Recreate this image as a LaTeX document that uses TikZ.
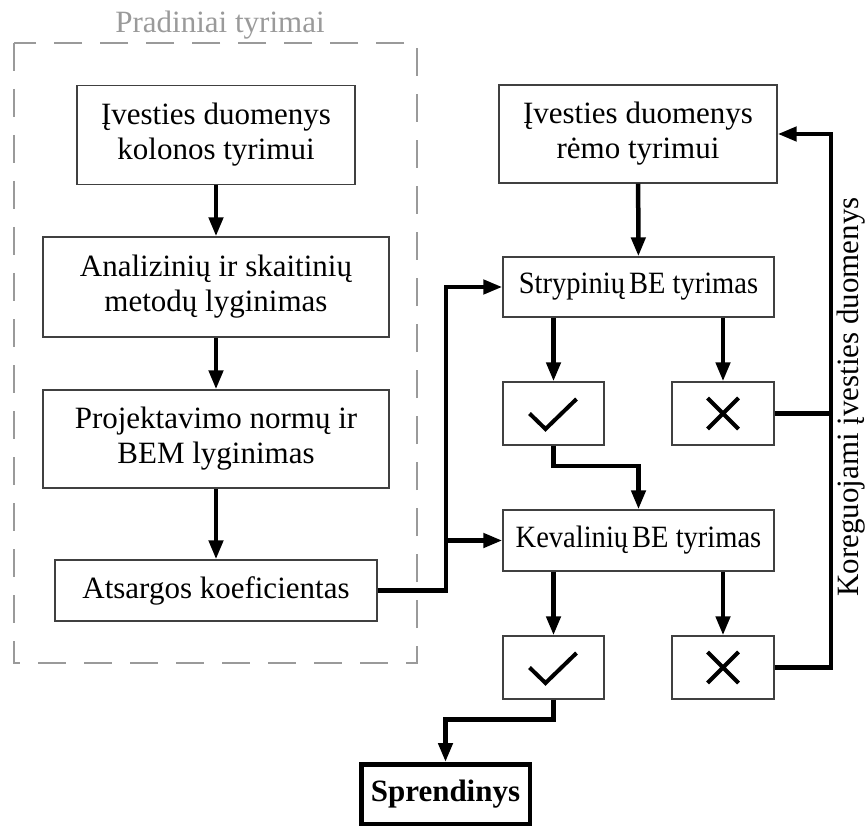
\documentclass[tikz,border=0pt]{standalone}
\usepackage{fontspec}
\setmainfont{Liberation Serif}
\newfontfamily\narrowserif[FakeStretch=0.92]{Liberation Serif}
\usetikzlibrary{arrows.meta}
\definecolor{Frame}{HTML}{404040}
\definecolor{Dash}{HTML}{9A9A9A}

\begin{document}
\begin{tikzpicture}[x=1pt, y=-1pt,
  plainbox/.style={draw=Frame, line width=1.4pt, inner sep=0pt, align=center, font=\fontsize{31}{35}\selectfont},
  narrowbox/.style={plainbox, font=\narrowserif\fontsize{31}{35}\selectfont},
  flow/.style={line width=4.5pt, -{Triangle[length=19pt,width=14pt]}},
  glyph/.style={line width=4pt}]
\useasboundingbox (0,0) rectangle (867,826);

% pradiniai tyrimai
\draw[Dash, line width=1.3pt, dash pattern=on 28pt off 18pt] (14,43) rectangle (417,663);
\node[text=Dash, font=\fontsize{31}{35}\selectfont] (title) at (220,25) {Pradiniai tyrimai};
\node[plainbox, minimum width=278pt, minimum height=99pt] (k1) at (216,135) {Įvesties duomenys\\kolonos tyrimui};
\node[plainbox, minimum width=346pt, minimum height=100pt] (k2) at (216,287) {Analizinių ir skaitinių\\metodų lyginimas};
\node[plainbox, minimum width=346pt, minimum height=98pt] (k3) at (216,439) {Projektavimo normų ir\\BEM lyginimas};
\node[plainbox, minimum width=322pt, minimum height=61pt] (k4) at (216,590.5) {Atsargos koeficientas};

% remo tyrimas
\node[plainbox, minimum width=278pt, minimum height=98pt] (r1) at (638,134) {Įvesties duomenys\\rėmo tyrimui};
\node[narrowbox, minimum width=271pt, minimum height=60pt] (r2) at (638.5,287) {Strypinių\hspace{4pt}BE tyrimas};
\node[plainbox, minimum width=101pt, minimum height=63pt] (ok1) at (553.5,413.5) {};
\node[plainbox, minimum width=102pt, minimum height=63pt] (no1) at (723,413.5) {};
\node[narrowbox, minimum width=271pt, minimum height=61pt] (r3) at (638.5,540.5) {Kevalinių\hspace{4pt}BE tyrimas};
\node[plainbox, minimum width=101pt, minimum height=63pt] (ok2) at (553.5,667.5) {};
\node[plainbox, minimum width=102pt, minimum height=63pt] (no2) at (723,667.5) {};
\node[plainbox, draw=black, line width=4.5pt, minimum width=168.5pt, minimum height=59.5pt,
  font=\fontsize{31}{35}\selectfont\bfseries] (sol) at (445.5,794) {Sprendinys};
\node[font=\fontsize{31}{35}\selectfont, rotate=90, inner sep=0pt] (fix) at (851,397) {Koreguojami įvesties duomenys};

\foreach \n in {ok1,ok2}
  \draw[glyph] ([shift={(-24,0)}]\n.center) -- ++(16,15.5) -- ++(31,-30);
\foreach \n in {no1,no2}
  \draw[glyph] ([shift={(-15.5,-15.5)}]\n.center) -- ++(31,31)
    ([shift={(15.5,-15.5)}]\n.center) -- ++(-31,31);

\coordinate (bus) at (446,0);
\coordinate (back) at (831,0);

\draw[flow] (k1) -- (k2);
\draw[flow] (k2) -- (k3);
\draw[flow] (k3) -- (k4);
\draw[flow] (k4.east) -- (k4.east -| bus) |- (r2.west);
\draw[flow] (bus |- r3.west) -- (r3.west);
\draw[flow] (r1) -- (r2);
\draw[flow] (r2.south -| ok1) -- (ok1);
\draw[flow] (r2.south -| no1) -- (no1);
\draw[flow] (ok1.south) -- ++(0,20.5) -| (r3.north);
\draw[flow] (r3.south -| ok2) -- (ok2);
\draw[flow] (r3.south -| no2) -- (no2);
\draw[flow] (ok2.south) -- ++(0,20) -| (sol.north);
\draw[line width=4.5pt] (no1.east) -- (no1.east -| back);
\draw[flow] (no2.east) -| (back |- r1.east) -- (r1.east);
\end{tikzpicture}
\end{document}
